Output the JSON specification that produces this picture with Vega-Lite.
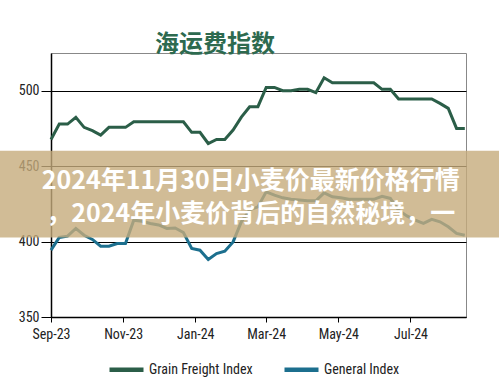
{
  "$schema": "https://vega.github.io/schema/vega-lite/v6.json",
  "width": 415,
  "height": 264,
  "autosize": {"type": "none"},
  "padding": {"left": 51, "top": 53, "right": 33, "bottom": 74},
  "background": "white",
  "title": {
    "text": "海运费指数",
    "anchor": "start",
    "frame": "group",
    "dx": 104,
    "offset": -28,
    "baseline": "bottom",
    "font": "Noto Sans CJK SC",
    "fontSize": 24,
    "fontWeight": "bold",
    "color": "#2d6a4f"
  },
  "config": {
    "view": {"stroke": "#888888", "strokeWidth": 1},
    "font": "Roboto Condensed, Liberation Sans Narrow, DejaVu Sans Condensed, Roboto",
    "axis": {
      "labelFont": "Roboto Condensed, Liberation Sans Narrow, DejaVu Sans Condensed, Roboto",
      "labelFontSize": 14,
      "labelColor": "#222222",
      "domainColor": "#000000",
      "domainWidth": 1.5,
      "tickColor": "#000000",
      "title": null
    },
    "legend": {
      "labelFont": "Roboto Condensed, Liberation Sans Narrow, DejaVu Sans Condensed, Roboto",
      "labelFontSize": 14,
      "labelColor": "#222222"
    }
  },
  "data": {
    "values": [
      {"date": "2023/09/01", "series": "Grain Freight Index", "value": 467.7},
      {"date": "2023/09/08", "series": "Grain Freight Index", "value": 477.9},
      {"date": "2023/09/15", "series": "Grain Freight Index", "value": 477.9},
      {"date": "2023/09/22", "series": "Grain Freight Index", "value": 482.3},
      {"date": "2023/09/29", "series": "Grain Freight Index", "value": 475.7},
      {"date": "2023/10/06", "series": "Grain Freight Index", "value": 473.5},
      {"date": "2023/10/13", "series": "Grain Freight Index", "value": 470.6},
      {"date": "2023/10/20", "series": "Grain Freight Index", "value": 475.7},
      {"date": "2023/10/27", "series": "Grain Freight Index", "value": 475.7},
      {"date": "2023/11/03", "series": "Grain Freight Index", "value": 475.7},
      {"date": "2023/11/10", "series": "Grain Freight Index", "value": 479.4},
      {"date": "2023/11/17", "series": "Grain Freight Index", "value": 479.4},
      {"date": "2023/11/24", "series": "Grain Freight Index", "value": 479.4},
      {"date": "2023/12/01", "series": "Grain Freight Index", "value": 479.4},
      {"date": "2023/12/08", "series": "Grain Freight Index", "value": 479.4},
      {"date": "2023/12/15", "series": "Grain Freight Index", "value": 479.4},
      {"date": "2023/12/22", "series": "Grain Freight Index", "value": 479.4},
      {"date": "2023/12/29", "series": "Grain Freight Index", "value": 472.4},
      {"date": "2024/01/05", "series": "Grain Freight Index", "value": 472.4},
      {"date": "2024/01/12", "series": "Grain Freight Index", "value": 465.0},
      {"date": "2024/01/19", "series": "Grain Freight Index", "value": 467.7},
      {"date": "2024/01/26", "series": "Grain Freight Index", "value": 467.7},
      {"date": "2024/02/02", "series": "Grain Freight Index", "value": 473.9},
      {"date": "2024/02/09", "series": "Grain Freight Index", "value": 482.5},
      {"date": "2024/02/16", "series": "Grain Freight Index", "value": 489.4},
      {"date": "2024/02/23", "series": "Grain Freight Index", "value": 489.4},
      {"date": "2024/03/01", "series": "Grain Freight Index", "value": 502.2},
      {"date": "2024/03/08", "series": "Grain Freight Index", "value": 502.2},
      {"date": "2024/03/15", "series": "Grain Freight Index", "value": 500.0},
      {"date": "2024/03/22", "series": "Grain Freight Index", "value": 500.0},
      {"date": "2024/03/29", "series": "Grain Freight Index", "value": 500.9},
      {"date": "2024/04/05", "series": "Grain Freight Index", "value": 500.9},
      {"date": "2024/04/12", "series": "Grain Freight Index", "value": 498.7},
      {"date": "2024/04/19", "series": "Grain Freight Index", "value": 508.6},
      {"date": "2024/04/26", "series": "Grain Freight Index", "value": 505.3},
      {"date": "2024/05/03", "series": "Grain Freight Index", "value": 505.3},
      {"date": "2024/05/10", "series": "Grain Freight Index", "value": 505.3},
      {"date": "2024/05/17", "series": "Grain Freight Index", "value": 505.3},
      {"date": "2024/05/24", "series": "Grain Freight Index", "value": 505.3},
      {"date": "2024/05/31", "series": "Grain Freight Index", "value": 505.3},
      {"date": "2024/06/07", "series": "Grain Freight Index", "value": 500.9},
      {"date": "2024/06/14", "series": "Grain Freight Index", "value": 500.9},
      {"date": "2024/06/21", "series": "Grain Freight Index", "value": 494.5},
      {"date": "2024/06/28", "series": "Grain Freight Index", "value": 494.5},
      {"date": "2024/07/05", "series": "Grain Freight Index", "value": 494.5},
      {"date": "2024/07/12", "series": "Grain Freight Index", "value": 494.5},
      {"date": "2024/07/19", "series": "Grain Freight Index", "value": 494.5},
      {"date": "2024/07/26", "series": "Grain Freight Index", "value": 491.6},
      {"date": "2024/08/02", "series": "Grain Freight Index", "value": 488.3},
      {"date": "2024/08/09", "series": "Grain Freight Index", "value": 475.0},
      {"date": "2024/08/16", "series": "Grain Freight Index", "value": 475.0},
      {"date": "2023/09/01", "series": "General Index", "value": 394.3},
      {"date": "2023/09/08", "series": "General Index", "value": 402.7},
      {"date": "2023/09/15", "series": "General Index", "value": 403.6},
      {"date": "2023/09/22", "series": "General Index", "value": 408.7},
      {"date": "2023/09/29", "series": "General Index", "value": 404.2},
      {"date": "2023/10/06", "series": "General Index", "value": 401.4},
      {"date": "2023/10/13", "series": "General Index", "value": 396.9},
      {"date": "2023/10/20", "series": "General Index", "value": 396.9},
      {"date": "2023/10/27", "series": "General Index", "value": 398.7},
      {"date": "2023/11/03", "series": "General Index", "value": 398.7},
      {"date": "2023/11/10", "series": "General Index", "value": 414.2},
      {"date": "2023/11/17", "series": "General Index", "value": 413.5},
      {"date": "2023/11/24", "series": "General Index", "value": 412.0},
      {"date": "2023/12/01", "series": "General Index", "value": 411.0},
      {"date": "2023/12/08", "series": "General Index", "value": 408.7},
      {"date": "2023/12/15", "series": "General Index", "value": 409.0},
      {"date": "2023/12/22", "series": "General Index", "value": 406.0},
      {"date": "2023/12/29", "series": "General Index", "value": 395.4},
      {"date": "2024/01/05", "series": "General Index", "value": 394.3},
      {"date": "2024/01/12", "series": "General Index", "value": 388.1},
      {"date": "2024/01/19", "series": "General Index", "value": 392.0},
      {"date": "2024/01/26", "series": "General Index", "value": 393.6},
      {"date": "2024/02/02", "series": "General Index", "value": 399.8},
      {"date": "2024/02/09", "series": "General Index", "value": 413.1},
      {"date": "2024/02/16", "series": "General Index", "value": 421.0},
      {"date": "2024/02/23", "series": "General Index", "value": 423.0},
      {"date": "2024/03/01", "series": "General Index", "value": 433.0},
      {"date": "2024/03/08", "series": "General Index", "value": 430.8},
      {"date": "2024/03/15", "series": "General Index", "value": 429.0},
      {"date": "2024/03/22", "series": "General Index", "value": 428.0},
      {"date": "2024/03/29", "series": "General Index", "value": 427.5},
      {"date": "2024/04/05", "series": "General Index", "value": 427.0},
      {"date": "2024/04/12", "series": "General Index", "value": 427.0},
      {"date": "2024/04/19", "series": "General Index", "value": 432.3},
      {"date": "2024/04/26", "series": "General Index", "value": 429.7},
      {"date": "2024/05/03", "series": "General Index", "value": 429.0},
      {"date": "2024/05/10", "series": "General Index", "value": 428.0},
      {"date": "2024/05/17", "series": "General Index", "value": 428.0},
      {"date": "2024/05/24", "series": "General Index", "value": 428.0},
      {"date": "2024/05/31", "series": "General Index", "value": 428.0},
      {"date": "2024/06/07", "series": "General Index", "value": 430.0},
      {"date": "2024/06/14", "series": "General Index", "value": 428.6},
      {"date": "2024/06/21", "series": "General Index", "value": 420.8},
      {"date": "2024/06/28", "series": "General Index", "value": 417.0},
      {"date": "2024/07/05", "series": "General Index", "value": 414.2},
      {"date": "2024/07/12", "series": "General Index", "value": 412.0},
      {"date": "2024/07/19", "series": "General Index", "value": 414.7},
      {"date": "2024/07/26", "series": "General Index", "value": 413.1},
      {"date": "2024/08/02", "series": "General Index", "value": 409.8},
      {"date": "2024/08/09", "series": "General Index", "value": 405.4},
      {"date": "2024/08/16", "series": "General Index", "value": 404.2}
    ]
  },
  "layer": [
    {
      "mark": {"type": "line", "strokeWidth": 3, "strokeJoin": "miter"},
      "encoding": {
        "x": {
          "field": "date",
          "type": "temporal",
          "scale": {"domain": [{"year": 2023, "month": 9, "date": 1}, {"year": 2024, "month": 8, "date": 17}]},
          "axis": {
            "values": [
              {"year": 2023, "month": 9, "date": 1},
              {"year": 2023, "month": 11, "date": 1},
              {"year": 2024, "month": 1, "date": 1},
              {"year": 2024, "month": 3, "date": 1},
              {"year": 2024, "month": 5, "date": 1},
              {"year": 2024, "month": 7, "date": 1}
            ],
            "format": "%b-%y",
            "grid": false,
            "tickSize": 5,
            "labelPadding": 5,
            "labelFlush": false
          }
        },
        "y": {
          "field": "value",
          "type": "quantitative",
          "scale": {"domain": [350, 525], "nice": false, "zero": false},
          "axis": {
            "values": [350, 400, 450, 500],
            "grid": true,
            "gridColor": "#000000",
            "gridWidth": 1,
            "tickSize": 10,
            "labelPadding": 2
          }
        },
        "color": {
          "field": "series",
          "type": "nominal",
          "scale": {"domain": ["Grain Freight Index", "General Index"], "range": ["#2b5e48", "#1c6f8e"]},
          "legend": {
            "title": null,
            "orient": "none",
            "legendX": 56,
            "legendY": 297,
            "direction": "horizontal",
            "symbolType": "stroke",
            "symbolSize": 1156,
            "symbolStrokeWidth": 4.5,
            "columnPadding": 22,
            "labelOffset": 3
          }
        }
      }
    },
    {
      "data": {"values": [{}]},
      "mark": {"type": "rect", "color": "#c6ab7c", "opacity": 0.8, "clip": false},
      "encoding": {
        "x": {"datum": {"year": 2023, "month": 7, "date": 15}, "type": "temporal"},
        "x2": {"datum": {"year": 2024, "month": 9, "date": 20}},
        "y": {"datum": 460.2, "type": "quantitative"},
        "y2": {"datum": 402.7}
      }
    },
    {
      "data": {"values": [{}]},
      "mark": {"type": "text", "text": "2024年11月30日小麦价最新价格行情", "font": "Noto Sans CJK SC", "fontSize": 25, "fontWeight": "bold", "color": "#ffffff", "align": "center", "baseline": "middle", "clip": false},
      "encoding": {
        "x": {"datum": {"year": 2024, "month": 2, "date": 17}, "type": "temporal"},
        "y": {"datum": 440.1, "type": "quantitative"}
      }
    },
    {
      "data": {"values": [{}]},
      "mark": {"type": "text", "text": "，2024年小麦价背后的自然秘境，一", "font": "Noto Sans CJK SC", "fontSize": 25, "fontWeight": "bold", "color": "#ffffff", "align": "center", "baseline": "middle", "clip": false},
      "encoding": {
        "x": {"datum": {"year": 2024, "month": 2, "date": 17}, "type": "temporal"},
        "y": {"datum": 418.2, "type": "quantitative"}
      }
    }
  ]
}
